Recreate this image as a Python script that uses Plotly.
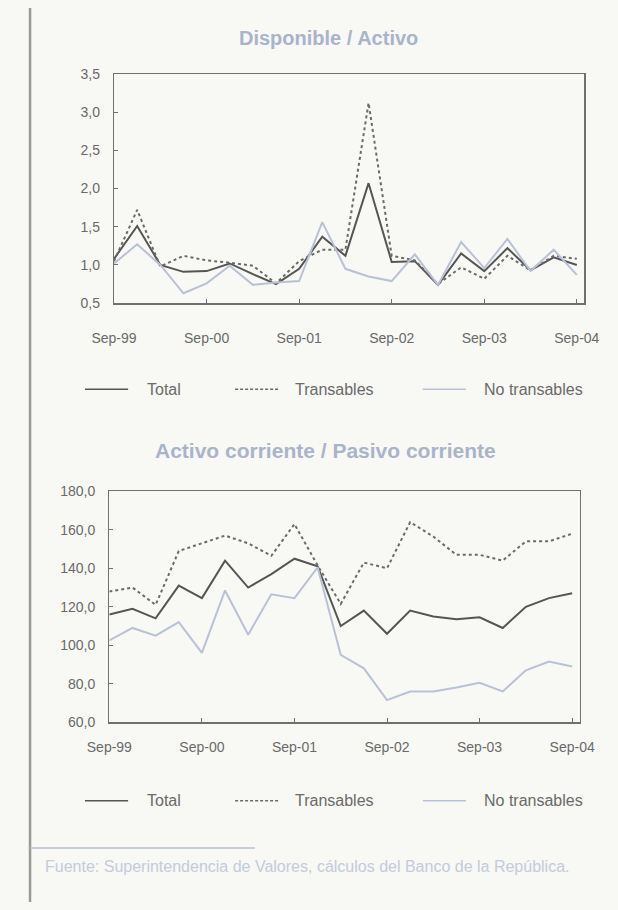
import plotly.graph_objects as go

# ---------------- data ----------------
quarters = ["Sep-99", "Dic-99", "Mar-00", "Jun-00",
            "Sep-00", "Dic-00", "Mar-01", "Jun-01",
            "Sep-01", "Dic-01", "Mar-02", "Jun-02",
            "Sep-02", "Dic-02", "Mar-03", "Jun-03",
            "Sep-03", "Dic-03", "Mar-04", "Jun-04",
            "Sep-04"]
tick_labels = ["Sep-99", "Sep-00", "Sep-01", "Sep-02", "Sep-03", "Sep-04"]
series_names = ["Total", "Transables", "No transables"]

# Disponible / Activo
disp_total = [1.08, 1.51, 1.00, 0.91, 0.92, 1.02, 0.88, 0.75, 0.95, 1.37, 1.12,
              2.07, 1.04, 1.05, 0.74, 1.15, 0.92, 1.22, 0.93, 1.10, 1.00]
disp_trans = [1.05, 1.72, 0.98, 1.12, 1.06, 1.03, 0.99, 0.76, 1.05, 1.20, 1.20,
              3.12, 1.12, 1.06, 0.75, 0.97, 0.82, 1.12, 0.93, 1.12, 1.08]
disp_notrans = [1.02, 1.27, 1.00, 0.63, 0.76, 0.99, 0.74, 0.77, 0.79, 1.56, 0.95,
                0.85, 0.79, 1.14, 0.74, 1.30, 0.96, 1.34, 0.92, 1.20, 0.87]

# Activo corriente / Pasivo corriente
corr_total = [116.0, 119.0, 114.0, 131.0, 124.5, 144.0, 130.0, 137.0, 145.0, 141.0, 110.0,
              118.0, 106.0, 118.0, 115.0, 113.5, 114.5, 109.0, 120.0, 124.5, 127.0]
corr_trans = [128.0, 130.0, 121.0, 149.0, 153.0, 157.0, 153.0, 146.5, 163.0, 141.5, 121.5,
              143.0, 140.0, 164.0, 156.5, 147.0, 147.0, 144.0, 154.0, 154.0, 158.0]
corr_notrans = [102.5, 109.0, 105.0, 112.0, 96.0, 128.5, 105.5, 126.5, 124.5, 140.5, 95.0,
                88.0, 71.5, 76.0, 76.0, 78.0, 80.5, 76.0, 87.0, 91.5, 89.0]

title_top = "Disponible / Activo"
title_bottom = "Activo corriente / Pasivo corriente"
source_text = "Fuente: Superintendencia de Valores, cálculos del Banco de la República."

# ---------------- styles ----------------
W, H = 618, 910
FONT = "Liberation Sans, Arial, sans-serif"
BG = "#f8f8f4"
TXT = "#6a6a6a"
TITLE_C = "#a9b4ca"
AXIS_C = "#707070"
colors = ["#555555", "#6a6a6a", "#b9c1d6"]
dashes = ["solid", "dot", "solid"]
legend_dashes = ["solid", "3px,2px", "solid"]
widths = [2.0, 2.0, 2.0]


def px_x(x):
    return x / W


def px_y(y):
    return 1 - y / H


fig = go.Figure()

top_data = [disp_total, disp_trans, disp_notrans]
bot_data = [corr_total, corr_trans, corr_notrans]

for i, name in enumerate(series_names):
    fig.add_trace(go.Scatter(x=quarters, y=top_data[i], name=name, mode="lines",
                             line=dict(color=colors[i], dash=dashes[i], width=widths[i]),
                             xaxis="x", yaxis="y", showlegend=False))
for i, name in enumerate(series_names):
    fig.add_trace(go.Scatter(x=quarters, y=bot_data[i], name=name, mode="lines",
                             line=dict(color=colors[i], dash=dashes[i], width=widths[i]),
                             xaxis="x2", yaxis="y2", showlegend=False))

xcommon = dict(type="category", range=[0, 20.32], tickvals=tick_labels, ticktext=tick_labels,
               showgrid=False, zeroline=False, showline=True, mirror=True,
               linecolor=AXIS_C, linewidth=1.3, ticks="inside", ticklen=4, tickcolor=AXIS_C,
               tickfont=dict(family=FONT, size=14, color=TXT))
ycommon = dict(showgrid=False, zeroline=False, showline=True, mirror=True,
               linecolor=AXIS_C, linewidth=1.3, ticks="inside", ticklen=4, tickcolor=AXIS_C,
               tickfont=dict(family=FONT, size=14, color=TXT), tickformat=".1f")

fig.update_layout(
    width=W, height=H,
    paper_bgcolor=BG, plot_bgcolor=BG,
    margin=dict(l=0, r=0, t=0, b=0),
    separators=",.",
    xaxis=dict(xcommon, domain=[px_x(97), px_x(598)], anchor="y", ticklabelstandoff=22),
    yaxis=dict(ycommon, domain=[px_y(300.5), px_y(67)], anchor="x",
               range=[0.5, 3.5], dtick=0.5, tick0=0.5, ticklabelstandoff=10),
    xaxis2=dict(xcommon, domain=[px_x(92), px_x(593)], anchor="y2", ticklabelstandoff=12),
    yaxis2=dict(ycommon, domain=[px_y(727), px_y(492)], anchor="x2",
                range=[60, 180], dtick=20, tick0=60, ticklabelstandoff=10),
    showlegend=False,
)

annotations = []
shapes = []

# titles
annotations.append(dict(text="<b>" + title_top + "</b>", x=px_x(325), y=px_y(31),
                        xref="paper", yref="paper", showarrow=False, xanchor="center",
                        yanchor="middle", font=dict(family=FONT, size=20, color=TITLE_C)))
annotations.append(dict(text="<b>" + title_bottom + "</b>", x=px_x(322), y=px_y(450),
                        xref="paper", yref="paper", showarrow=False, xanchor="center",
                        yanchor="middle", font=dict(family=FONT, size=21, color=TITLE_C)))

# legends (drawn per panel)
sample_x = [(66, 112), (226, 272), (426, 472)]
text_x = [130, 288, 489]
for ly in (388, 807):
    for i, name in enumerate(series_names):
        shapes.append(dict(type="line", xref="paper", yref="paper",
                           x0=px_x(sample_x[i][0]), x1=px_x(sample_x[i][1]),
                           y0=px_y(ly), y1=px_y(ly),
                           line=dict(color=colors[i], width=1.6, dash=legend_dashes[i])))
        annotations.append(dict(text=name, x=px_x(text_x[i]), y=px_y(ly),
                                xref="paper", yref="paper", showarrow=False,
                                xanchor="left", yanchor="middle",
                                font=dict(family=FONT, size=16, color=TXT)))

# page decorations
shapes.append(dict(type="line", xref="paper", yref="paper", x0=px_x(7.5), x1=px_x(7.5),
                   y0=0, y1=1, line=dict(color="#9a9a9a", width=2.5)))
shapes.append(dict(type="line", xref="paper", yref="paper", x0=px_x(7.5), x1=px_x(247),
                   y0=px_y(855), y1=px_y(855), line=dict(color="#b5bfd3", width=1.5)))

annotations.append(dict(text=source_text, x=px_x(21), y=px_y(874), xref="paper", yref="paper",
                        showarrow=False, xanchor="left", yanchor="middle",
                        font=dict(family=FONT, size=16, color="#c3cbdc")))

fig.update_layout(annotations=annotations, shapes=shapes)

fig.write_html("out.html",
               config={"displayModeBar": False, "staticPlot": True},
               post_script="document.body.style.margin='0px';"
                           "document.body.style.overflow='hidden';")
